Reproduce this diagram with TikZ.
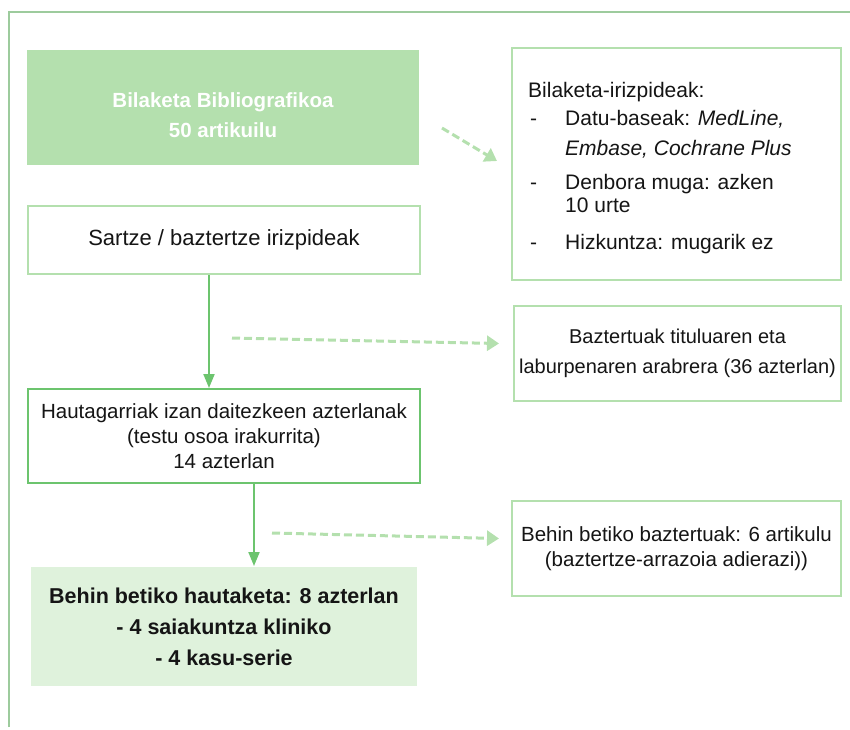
\documentclass[tikz,border=0pt]{standalone}
\usepackage{fontspec}
\setmainfont{Liberation Sans}
\usetikzlibrary{arrows.meta}
\definecolor{lgreen}{HTML}{B4E0AE}
\definecolor{dgreen}{HTML}{6CC46E}
\definecolor{pale}{HTML}{DFF2DC}
\definecolor{framec}{HTML}{9DCB9D}
\definecolor{txt}{HTML}{151515}
\tikzset{
  box/.style={draw=lgreen, line width=2pt, fill=white, inner sep=0pt, anchor=north west, align=center, text=txt, font=\fontsize{21}{25}\selectfont},
  txtline/.style={anchor=base west, inner sep=0pt, text=txt, font=\fontsize{21}{25}\selectfont},
  solidarrow/.style={draw=dgreen, line width=2pt, -{Triangle[length=14pt,width=11pt]}, color=dgreen},
  dasharrow/.style={draw=lgreen, line width=3pt, dash pattern=on 8pt off 4pt, -{Triangle[length=12pt,width=15pt]}, color=lgreen}
}
\begin{document}
\begin{tikzpicture}[x=1pt,y=-1pt]
\useasboundingbox (0,0) rectangle (850,729);
% outer frame
\draw[framec, line width=1.6pt] (9,727) -- (9,12) -- (850,12);

% boxes left
\node[box, draw=none, fill=lgreen, minimum width=392pt, minimum height=115pt] (b1) at (26,49) {};
\node[anchor=center, align=center, text=white, font=\fontsize{20.5}{30}\bfseries\selectfont] (t1) at ([yshift=-8pt]b1.center) {Bilaketa Bibliografikoa\\50 artikuilu};

\node[box, minimum width=392pt, minimum height=68pt, font=\fontsize{22}{25}\selectfont] (sartze) at (27,205) {Sartze / baztertze irizpideak};

\node[box, draw=dgreen, minimum width=392pt, minimum height=94pt, font=\fontsize{20.5}{25}\selectfont] (hauta) at (27,388) {Hautagarriak izan daitezkeen azterlanak\\(testu osoa irakurrita)\\14 azterlan};

\node[box, draw=none, fill=pale, minimum width=386pt, minimum height=119pt, font=\fontsize{21.5}{31}\bfseries\selectfont] (final) at (30,566) {Behin betiko hautaketa: 8 azterlan\\- 4 saiakuntza kliniko\\- 4 kasu-serie};

% boxes right
\node[box, minimum width=329pt, minimum height=232pt] (crit) at (511,47) {};
\node[txtline] (c1) at (528,97) {Bilaketa-irizpideak:};
\node[txtline] (c2a) at (530,125) {-};
\node[txtline] (c2) at (565,125) {Datu-baseak: \textit{MedLine,}};
\node[txtline] (c3) at (565,155) {\textit{Embase, Cochrane Plus}};
\node[txtline] (c4a) at (530,189) {-};
\node[txtline] (c4) at (565,189) {Denbora muga: azken};
\node[txtline] (c5) at (565,212) {10 urte};
\node[txtline] (c6a) at (530,249) {-};
\node[txtline] (c6) at (565,249) {Hizkuntza: mugarik ez};

\node[box, minimum width=327pt, minimum height=95pt, font=\fontsize{20}{30}\selectfont] (bazt) at (513,305) {Baztertuak tituluaren eta\\laburpenaren arabrera (36 azterlan)};

\node[box, minimum width=329pt, minimum height=95pt, font=\fontsize{20.5}{25}\selectfont] (behin) at (511,500) {Behin betiko baztertuak: 6 artikulu\\(baztertze-arrazoia adierazi))};

% solid arrows
\draw[solidarrow] ([xshift=-15pt]sartze.south) -- ([xshift=-15pt]sartze.south |- hauta.north);
\draw[solidarrow] ([xshift=30pt]hauta.south) -- ([xshift=30pt]hauta.south |- final.north);

% dashed arrows
\coordinate (d1) at (442,128);
\coordinate (d2) at (232,338);
\coordinate (d3) at (272,533);
\draw[dasharrow] (d1) -- ([xshift=-14pt,yshift=3pt]crit.west);
\draw[dasharrow] (d2) -- ([xshift=-14pt,yshift=10pt]bazt.west);
\draw[dasharrow] (d3) -- ([xshift=-12pt,yshift=10pt]behin.west);
\end{tikzpicture}
\end{document}
